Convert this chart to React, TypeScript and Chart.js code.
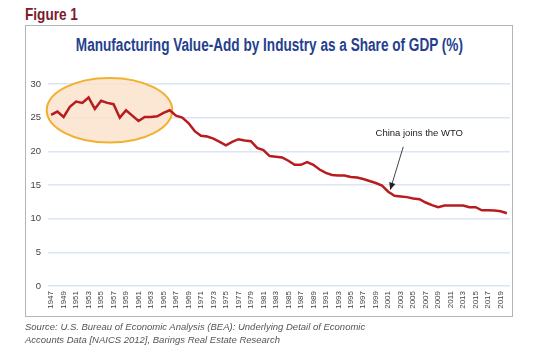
import React, { useEffect, useRef } from "react";
import { Chart, registerables } from "chart.js";

Chart.register(...registerables);

const years: string[] = [
  "1947","1948","1949","1950","1951","1952","1953","1954","1955","1956",
  "1957","1958","1959","1960","1961","1962","1963","1964","1965","1966",
  "1967","1968","1969","1970","1971","1972","1973","1974","1975","1976",
  "1977","1978","1979","1980","1981","1982","1983","1984","1985","1986",
  "1987","1988","1989","1990","1991","1992","1993","1994","1995","1996",
  "1997","1998","1999","2000","2001","2002","2003","2004","2005","2006",
  "2007","2008","2009","2010","2011","2012","2013","2014","2015","2016",
  "2017","2018","2019","2020",
];

const shareOfGdp: number[] = [
  25.4, 25.9, 25.1, 26.6, 27.4, 27.2, 28.0, 26.3, 27.5, 27.2,
  27.0, 25.0, 26.1, 25.3, 24.5, 25.1, 25.1, 25.2, 25.7, 26.1,
  25.3, 25.0, 24.2, 23.0, 22.3, 22.2, 21.9, 21.4, 20.9, 21.4,
  21.8, 21.6, 21.5, 20.5, 20.2, 19.3, 19.2, 19.1, 18.6, 18.0,
  18.0, 18.4, 18.0, 17.3, 16.8, 16.5, 16.4, 16.4, 16.2, 16.1,
  15.9, 15.6, 15.3, 14.9, 14.0, 13.4, 13.3, 13.2, 13.0, 12.9,
  12.4, 12.0, 11.7, 11.95, 11.95, 11.95, 11.95, 11.7, 11.7, 11.25,
  11.25, 11.2, 11.1, 10.8,
];

const yTicks: number[] = [0, 5, 10, 15, 20, 25, 30];

const annotationText = "China joins the WTO";
const annotationYear = "2001";

// ellipse highlighting the early post-war period (in data units)
const highlightFromIndex = -0.7;
const highlightToIndex = 19.4;
const highlightTop = 30.9;
const highlightBottom = 21.3;

const LINE_COLOR = "#b71c1f";

export default function App() {
  const canvasRef = useRef<HTMLCanvasElement | null>(null);

  useEffect(() => {
    const canvas = canvasRef.current;
    if (!canvas) return;

    const ellipsePlugin = {
      id: "ellipseHighlight",
      beforeDatasetsDraw(chart: any) {
        const xs = chart.scales.x;
        const ys = chart.scales.y;
        const x1 = xs.getPixelForValue(highlightFromIndex);
        const x2 = xs.getPixelForValue(highlightToIndex);
        const y1 = ys.getPixelForValue(highlightTop);
        const y2 = ys.getPixelForValue(highlightBottom);
        const ctx = chart.ctx;
        ctx.save();
        ctx.beginPath();
        ctx.ellipse((x1 + x2) / 2, (y1 + y2) / 2, (x2 - x1) / 2, (y2 - y1) / 2, 0, 0, Math.PI * 2);
        ctx.fillStyle = "rgba(251, 226, 204, 0.85)";
        ctx.fill();
        ctx.lineWidth = 2;
        ctx.strokeStyle = "#f1b12e";
        ctx.stroke();
        ctx.restore();
      },
    };

    const annotationPlugin = {
      id: "wtoAnnotation",
      afterDatasetsDraw(chart: any) {
        const xs = chart.scales.x;
        const ys = chart.scales.y;
        const idx = years.indexOf(annotationYear);
        const tipX = xs.getPixelForValue(idx) + 2;
        const tipY = ys.getPixelForValue(shareOfGdp[idx]) - 2;
        const ctx = chart.ctx;
        ctx.save();
        const textX = tipX + 29;
        const textY = tipY - 56;
        ctx.font = "9.5px 'Liberation Sans', Arial, sans-serif";
        ctx.fillStyle = "#222";
        ctx.textAlign = "center";
        ctx.textBaseline = "middle";
        ctx.fillText(annotationText, textX, textY);
        const sx = tipX + 13;
        const sy = textY + 13;
        ctx.strokeStyle = "#444";
        ctx.lineWidth = 1;
        ctx.beginPath();
        ctx.moveTo(sx, sy);
        ctx.lineTo(tipX, tipY);
        ctx.stroke();
        const ang = Math.atan2(tipY - sy, tipX - sx);
        const len = 7;
        const wid = 3.2;
        ctx.fillStyle = "#222";
        ctx.beginPath();
        ctx.moveTo(tipX, tipY);
        ctx.lineTo(
          tipX - len * Math.cos(ang) + wid * Math.sin(ang),
          tipY - len * Math.sin(ang) - wid * Math.cos(ang)
        );
        ctx.lineTo(
          tipX - len * Math.cos(ang) - wid * Math.sin(ang),
          tipY - len * Math.sin(ang) + wid * Math.cos(ang)
        );
        ctx.closePath();
        ctx.fill();
        ctx.restore();
      },
    };

    const chart = new Chart(canvas, {
      type: "line",
      data: {
        labels: years,
        datasets: [
          {
            data: shareOfGdp,
            borderColor: LINE_COLOR,
            borderWidth: 2.5,
            pointRadius: 0,
            tension: 0,
            fill: false,
          },
        ],
      },
      options: {
        responsive: false,
        animation: false,
        layout: { padding: { left: 0, top: 84, right: 23, bottom: 40 } },
        plugins: {
          legend: { display: false },
          tooltip: { enabled: false },
          title: { display: false },
        },
        scales: {
          x: {
            type: "category",
            offset: true,
            grid: { display: false, drawTicks: false },
            border: { display: false },
            afterFit(scale: any) {
              scale.height = 30;
            },
            ticks: {
              autoSkip: false,
              maxRotation: 90,
              minRotation: 90,
              padding: 5,
              color: "#444",
              font: { family: "'Liberation Sans', Arial, sans-serif", size: 8 },
              callback: (_v: any, i: number) => (i % 2 === 0 ? years[i] : ""),
            },
          },
          y: {
            min: 0,
            max: 30,
            afterFit(scale: any) {
              scale.width = 48;
            },
            afterBuildTicks(scale: any) {
              scale.ticks = yTicks.map((v) => ({ value: v }));
            },
            grid: { color: "#dce6f2", lineWidth: 1.5, drawTicks: false },
            border: { display: false },
            ticks: {
              padding: 7,
              color: "#444",
              font: { family: "'Liberation Sans', Arial, sans-serif", size: 9.5 },
            },
          },
        },
      },
      plugins: [ellipsePlugin, annotationPlugin],
    });

    return () => chart.destroy();
  }, []);

  return (
    <div
      style={{
        position: "absolute",
        left: 0,
        top: 0,
        width: 533,
        height: 356,
        background: "#fff",
        overflow: "hidden",
      }}
    >
      <div
        style={{
          position: "absolute",
          left: 25,
          top: 4,
          fontFamily: "'Liberation Sans', Arial, sans-serif",
          fontWeight: "bold",
          fontSize: 17,
          color: "#7a1c2c",
          lineHeight: "22px",
          whiteSpace: "nowrap",
          transform: "scaleX(0.8)",
          transformOrigin: "left center",
        }}
      >
        Figure 1
      </div>
      <div
        style={{
          position: "absolute",
          left: 25,
          top: 25,
          width: 488,
          height: 292,
          boxSizing: "border-box",
          border: "1.5px solid #b4b4b4",
        }}
      />
      <div
        style={{
          position: "absolute",
          left: 25,
          width: 488,
          top: 34,
          textAlign: "center",
          fontFamily: "'Liberation Sans', Arial, sans-serif",
          fontWeight: "bold",
          fontSize: 18,
          color: "#253f8e",
          lineHeight: "22px",
          whiteSpace: "nowrap",
          display: "flex",
          justifyContent: "center",
        }}
      >
        <span
          style={{
            display: "inline-block",
            transform: "scaleX(0.755)",
            transformOrigin: "center center",
          }}
        >
          Manufacturing Value-Add by Industry as a Share of GDP (%)
        </span>
      </div>
      <canvas
        ref={canvasRef}
        width={533}
        height={356}
        style={{ position: "absolute", left: 0, top: 0, width: 533, height: 356 }}
      />
      <div
        style={{
          position: "absolute",
          left: 25,
          top: 320,
          fontFamily: "'Liberation Sans', Arial, sans-serif",
          fontStyle: "italic",
          fontSize: 9.5,
          color: "#555",
          lineHeight: "13px",
          whiteSpace: "nowrap",
        }}
      >
        Source: U.S. Bureau of Economic Analysis (BEA): Underlying Detail of Economic
        <br />
        Accounts Data [NAICS 2012], Barings Real Estate Research
      </div>
    </div>
  );
}
